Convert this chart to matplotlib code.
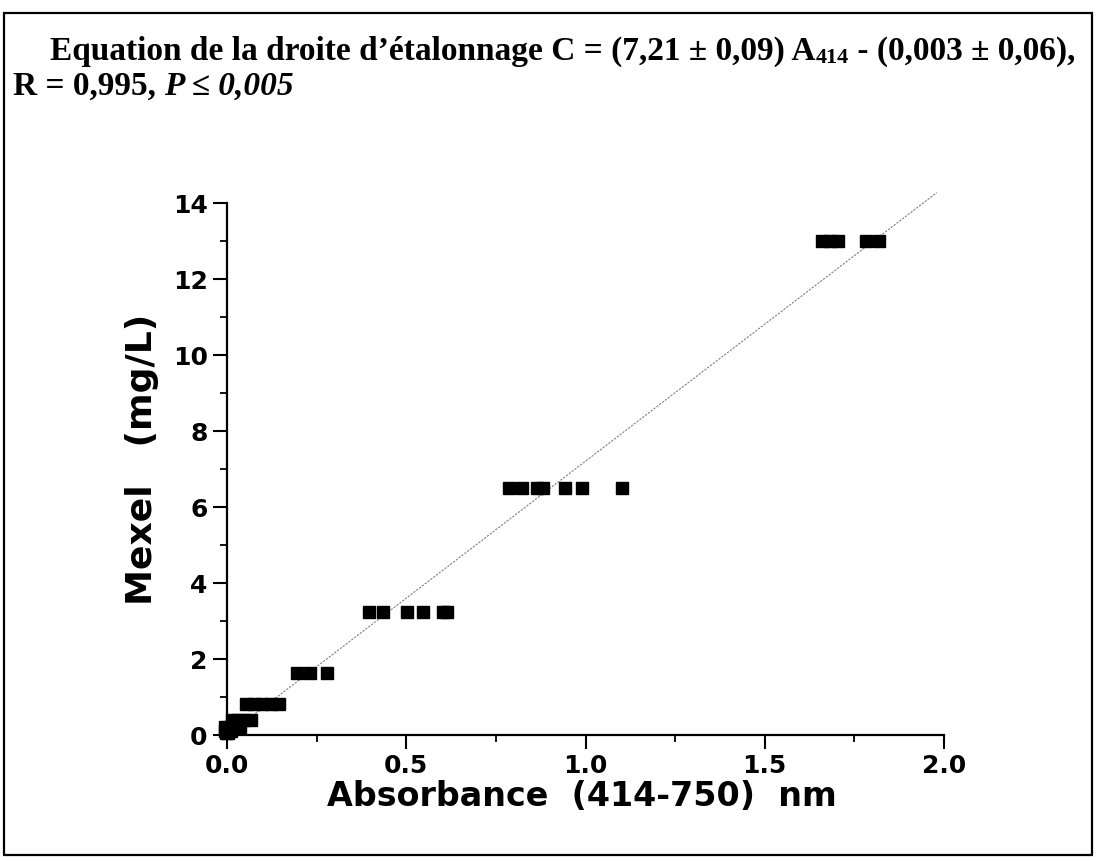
import matplotlib
matplotlib.use("Agg")
from matplotlib import pyplot as plt
from matplotlib.patches import Rectangle

# etalonnage Mexel : absorbance (414-750 nm) vs concentration (mg/L)
abs_13 = [1.660, 1.682, 1.704, 1.782, 1.819]
abs_6 = [0.787, 0.823, 0.865, 0.881, 0.943, 0.990, 1.102]
abs_3 = [0.396, 0.435, 0.502, 0.547, 0.603, 0.614]
abs_16 = [0.195, 0.232, 0.279]
abs_08 = [0.053, 0.075, 0.098, 0.123, 0.145]
abs_04 = [0.015, 0.030, 0.048, 0.066]
abs_02 = [-0.005, 0.008, 0.020, 0.035]
abs_01 = [-0.005, 0.004, 0.012]
abs_005 = [-0.004, 0.003]

conc_levels = [13.0, 6.5, 3.25, 1.625, 0.8125, 0.406, 0.203, 0.1, 0.05]
abs_groups = [abs_13, abs_6, abs_3, abs_16, abs_08, abs_04, abs_02, abs_01, abs_005]

# droite : C = 7,21 A - 0,003
pente = 7.21
ordonnee = -0.003
x_droite = [0.0, 1.98]

x_ticks = [0.0, 0.5, 1.0, 1.5, 2.0]
x_ticklabels = ["0.0", "0.5", "1.0", "1.5", "2.0"]
y_ticks = [0, 2, 4, 6, 8, 10, 12, 14]

fig = plt.figure(figsize=(10.97, 8.61), dpi=100)
ax = fig.add_axes([0.207, 0.1463, 0.6535, 0.6179])

xs = []
ys = []
for c, grp in zip(conc_levels, abs_groups):
    for a in grp:
        xs.append(a)
        ys.append(c)

ax.plot(x_droite, [pente * x + ordonnee for x in x_droite], color="0.5",
        lw=0.8, ls=(0, (2, 1.2)), clip_on=False, zorder=2)
ax.plot(xs, ys, ls="none", marker="s", ms=8.8, color="black", clip_on=False, zorder=3)

ax.set_xlim(0, 2.0)
ax.set_ylim(0, 14)
ax.spines["top"].set_visible(False)
ax.spines["right"].set_visible(False)
for s in ["left", "bottom"]:
    ax.spines[s].set_linewidth(1.6)

ax.set_xticks(x_ticks)
ax.set_xticklabels(x_ticklabels)
ax.set_xticks([0.25, 0.75, 1.25, 1.75], minor=True)
ax.set_yticks(y_ticks)
ax.set_yticks([1, 3, 5, 7, 9, 11, 13], minor=True)
ax.tick_params(which="major", direction="out", length=10, width=1.5,
               labelsize=18, pad=4)
ax.tick_params(which="minor", direction="out", length=5, width=1.3)
for lab in ax.get_xticklabels() + ax.get_yticklabels():
    lab.set_fontweight("bold")
    lab.set_family("DejaVu Sans")

ax.set_xlabel("Absorbance  (414-750)  nm", fontsize=24, fontweight="bold")
ax.set_ylabel("Mexel   (mg/L)", fontsize=26, fontweight="bold")
ax.xaxis.set_label_coords(0.495, -0.085)
ax.yaxis.set_label_coords(-0.095, 0.519)

# cadre autour de la figure
fig.patches.append(Rectangle((0.004, 0.007), 0.991, 0.978, transform=fig.transFigure,
                             fill=False, lw=1.6, color="black"))

# titre en morceaux (indice 414, italique)
renderer = fig.canvas.get_renderer()
serif = dict(family="Liberation Serif", fontweight="bold", fontsize=24)


def write_run(x0, y0, runs):
    x = x0
    for s, extra in runs:
        kw = dict(serif)
        kw.update(extra)
        dy = kw.pop("dy", 0)
        t = fig.text(x, y0 + dy, s, ha="left", va="baseline", **kw)
        bb = t.get_window_extent(renderer)
        x = fig.transFigure.inverted().transform((bb.x1, bb.y0))[0]


write_run(50 / 1097, 1 - 60 / 861, [
    ("Equation de la droite d\u2019\u00e9talonnage C = (7,21 \u00b1 0,09) A", {}),
    ("414", {"fontsize": 16, "dy": -0.004}),
    (" - (0,003 \u00b1 0,06),", {}),
])
write_run(13 / 1097, 1 - 95 / 861, [
    ("R = 0,995, ", {}),
    ("P \u2264 0,005", {"style": "italic"}),
])

fig.savefig("out.png", dpi=100)
